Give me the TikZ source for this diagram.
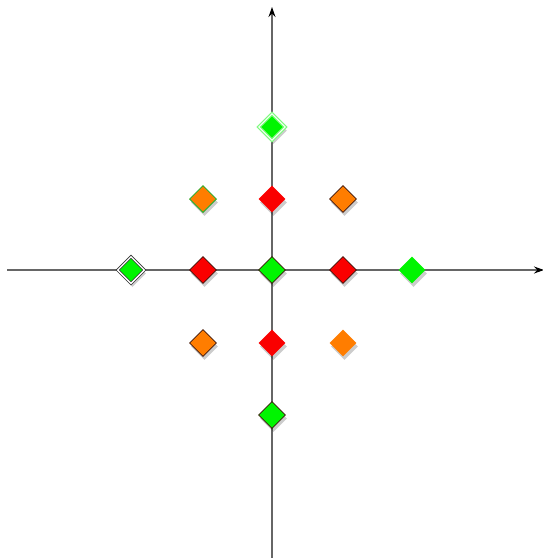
\documentclass[tikz,border=0pt]{standalone}
\usetikzlibrary{shapes.geometric,shadows,arrows.meta}
\definecolor{gr}{RGB}{0,245,0}
\definecolor{rd}{RGB}{250,0,0}
\definecolor{og}{RGB}{255,125,0}
\definecolor{edge}{RGB}{60,20,10}
\begin{document}
\begin{tikzpicture}[x=1pt,y=-1pt,
  dia/.style={diamond,aspect=1,minimum width=27pt,minimum height=27pt,inner sep=0pt,
    drop shadow={shadow xshift=1.5pt,shadow yshift=-3.5pt,opacity=0.2,fill=black}},
  dgreen/.style={dia,fill=gr},
  dred/.style={dia,fill=rd},
  dorange/.style={dia,fill=og},
  edged/.style={draw=edge,line width=0.8pt},
  axis/.style={draw=black!60,line width=1.2pt,-{Stealth[length=10pt,width=7pt,black]}}]
\useasboundingbox (0,0) rectangle (543,558);
\coordinate (xl) at (7,270);
\coordinate (xr) at (544,270);
\coordinate (yb) at (272,558);
\coordinate (yt) at (272,7);
\draw[axis] (xl) -- (xr);
\draw[axis] (yb) -- (yt);
% top
\node[dgreen,draw=gr!50!white,line width=1.2pt,double=white,double distance=1pt] (t) at (272,127) {};
% row 199
\node[dorange,draw=green!60!black!80,line width=1pt] (a1) at (203,199) {};
\node[dred] (a2) at (272,199) {};
\node[dorange,edged] (a3) at (343,199) {};
% row 270
\node[dgreen,draw=black!80,line width=0.8pt,double=white,double distance=1.3pt] (b1) at (131,270) {};
\node[dred,edged] (b2) at (203,270) {};
\node[dgreen,edged] (b3) at (272,270) {};
\node[dred,edged] (b4) at (343,270) {};
\node[dgreen] (b5) at (412,270) {};
% row 343
\node[dorange,edged] (c1) at (203,343) {};
\node[dred] (c2) at (272,343) {};
\node[dorange] (c3) at (343,343) {};
% bottom
\node[dgreen,edged] (d) at (272,415) {};
\end{tikzpicture}
\end{document}
